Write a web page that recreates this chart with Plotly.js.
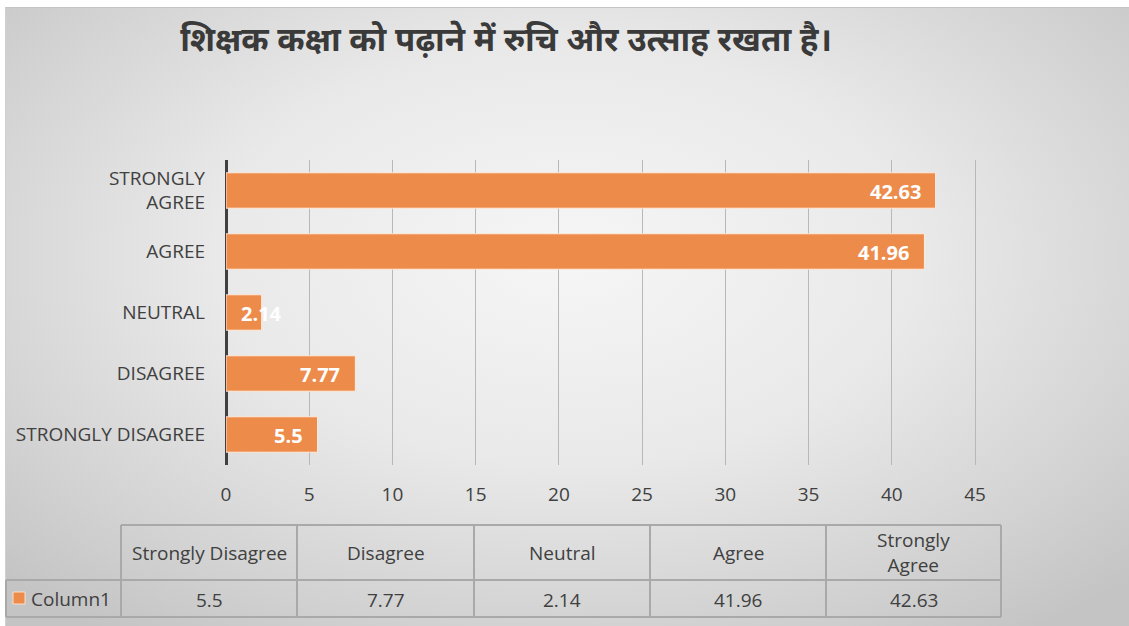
<!DOCTYPE html>
<html>
<head>
<meta charset="utf-8">
<script src="https://cdn.plot.ly/plotly-3.0.1.min.js"></script>
<style>
  html, body { margin: 0; padding: 0; background: #ffffff; }
  #wrap { position: relative; width: 1129px; height: 626px; overflow: hidden; }
  #bg { position: absolute; left: 5px; top: 7px; width: 1124px; height: 619px;
        border-top: 1px solid #c4c4c4; border-left: 1px solid #d0d0d0;
        background: radial-gradient(ellipse 70% 75% at 50% 40%, #f6f6f6 0%, #e9e9e9 45%, #d2d2d2 80%, #c4c4c4 100%); }
  #chart { position: absolute; left: 0; top: 0; width: 1129px; height: 626px; }
</style>
</head>
<body>
<div id="wrap"><div id="bg"></div><div id="chart"></div></div>
<script>
// ---- data ----
const chartTitle = 'शिक्षक कक्षा को पढ़ाने में रुचि और उत्साह रखता है।';
const categories = ['Strongly Disagree', 'Disagree', 'Neutral', 'Agree', 'Strongly Agree'];
const axisLabels = ['STRONGLY DISAGREE', 'DISAGREE', 'NEUTRAL', 'AGREE', 'STRONGLY<br>AGREE'];
const tableHeaders = ['Strongly Disagree', 'Disagree', 'Neutral', 'Agree', 'Strongly<br>Agree'];
const seriesName = 'Column1';
const values = [5.5, 7.77, 2.14, 41.96, 42.63];
const xTicks = [0, 5, 10, 15, 20, 25, 30, 35, 40, 45];

// ---- layout helpers (pixel -> paper) ----
const W = 1129, H = 626;
const px = x => x / W;
const py = y => 1 - y / H;
const FONT = 'Open Sans, Lato, DejaVu Sans, sans-serif';
const TXT = '#404040';
const ORANGE = '#ED8B4B';
const GRID = '#b8b8b8';
const TBL = '#a9a9a9';

const xMax = 45.1;
const plotL = 226, plotT = 160, plotB = 465;
const pxPerUnit = (975 - plotL) / 45;
const plotR = plotL + pxPerUnit * xMax;

const trace = {
  type: 'bar',
  orientation: 'h',
  x: values,
  y: categories,
  name: seriesName,
  marker: { color: ORANGE, line: { color: 'rgba(255,240,225,0.9)', width: 1 } },
  hoverinfo: 'x+y'
};

const annotations = [];
// data labels
values.forEach((v, i) => {
  const fits = v * pxPerUnit > 55;
  annotations.push({
    x: fits ? v : 0, y: categories[i], xref: 'x', yref: 'y',
    text: '<b>' + v + '</b>', showarrow: false,
    xanchor: fits ? 'right' : 'left', xshift: fits ? -13 : 13, yshift: -1,
    font: { family: FONT, size: 20, color: '#ffffff' }
  });
});

// table geometry
const colEdges = [121, 297, 474, 650, 826, 1001];
const rowTop = 525, rowMid = 580, rowBot = 617, leftEdge = 6;
const shapes = [];
const line = (x0, y0, x1, y1) => shapes.push({
  type: 'line', xref: 'paper', yref: 'paper',
  x0: px(x0), y0: py(y0), x1: px(x1), y1: py(y1),
  line: { color: TBL, width: 2 }
});
line(colEdges[0], rowTop, colEdges[5], rowTop);
line(leftEdge, rowMid, colEdges[5], rowMid);
line(leftEdge, rowBot, colEdges[5], rowBot);
line(leftEdge, rowMid, leftEdge, rowBot);
colEdges.forEach(x => line(x, rowTop, x, rowBot));

tableHeaders.forEach((h, i) => {
  const cx = (colEdges[i] + colEdges[i + 1]) / 2;
  annotations.push({
    x: px(cx), y: py((rowTop + rowMid) / 2), xref: 'paper', yref: 'paper',
    text: h, showarrow: false, xanchor: 'center', yanchor: 'middle', align: 'center',
    font: { family: FONT, size: 19, color: TXT }
  });
  annotations.push({
    x: px(cx), y: py((rowMid + rowBot) / 2 + 1), xref: 'paper', yref: 'paper',
    text: String(values[i]), showarrow: false, xanchor: 'center', yanchor: 'middle',
    font: { family: FONT, size: 19, color: TXT }
  });
});
// legend key + series name
shapes.push({
  type: 'rect', xref: 'paper', yref: 'paper',
  x0: px(13), x1: px(25), y0: py(604), y1: py(592),
  fillcolor: ORANGE, line: { color: 'rgba(255,230,210,0.9)', width: 1 }
});
annotations.push({
  x: px(29), y: py(599), xref: 'paper', yref: 'paper',
  text: seriesName, showarrow: false, xanchor: 'left', yanchor: 'middle',
  font: { family: FONT, size: 19, color: TXT }
});

const layout = {
  width: W, height: H,
  margin: { l: 0, r: 0, t: 0, b: 0, pad: 0 },
  paper_bgcolor: 'rgba(0,0,0,0)',
  plot_bgcolor: 'rgba(0,0,0,0)',
  showlegend: false,
  bargap: 0.42,
  title: {
    text: '<b>' + chartTitle + '</b>',
    x: px(506), xanchor: 'center', y: py(39), yanchor: 'middle',
    font: { family: 'Noto Sans, Noto Sans Devanagari, DejaVu Sans, sans-serif', size: 33, color: '#3a3a3a' }
  },
  xaxis: {
    domain: [px(plotL), px(plotR)],
    range: [0, xMax],
    tickvals: xTicks,
    ticktext: xTicks.map(String),
    showgrid: true, gridcolor: GRID, gridwidth: 1,
    zeroline: true, zerolinecolor: '#404040', zerolinewidth: 3,
    showline: false, ticks: '',
    ticklabelstandoff: 16,
    tickfont: { family: FONT, size: 19, color: TXT },
    fixedrange: true
  },
  yaxis: {
    domain: [py(plotB), py(plotT)],
    type: 'category',
    tickvals: categories,
    ticktext: axisLabels,
    showgrid: false, zeroline: false, showline: false, ticks: '',
    ticklabelstandoff: 20,
    tickfont: { family: FONT, size: 19, color: TXT },
    fixedrange: true
  },
  shapes: shapes,
  annotations: annotations
};

Plotly.newPlot('chart', [trace], layout, { displayModeBar: false, staticPlot: true });
</script>
</body>
</html>
